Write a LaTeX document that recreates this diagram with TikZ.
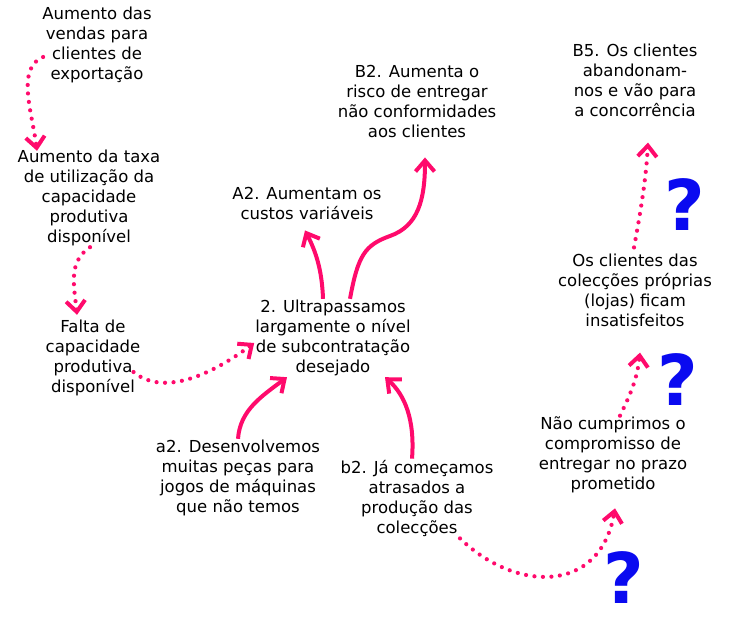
\documentclass[tikz,border=0pt]{standalone}
\usepackage{fontspec}
\setmainfont{DejaVu Sans}
\usepackage{tikz}
\usetikzlibrary{arrows.meta,calc}
\definecolor{cPink}{HTML}{FF0A6C}
\definecolor{cQBlue}{HTML}{0A0AF0}

\begin{document}
\begin{tikzpicture}[
  x=1pt,y=-1pt,
  txt/.style={align=center,inner sep=1pt,font=\fontsize{16.5}{20}\selectfont},
  qm/.style={text=cQBlue,font=\fontsize{70}{70}\bfseries},
  tip/.style={-{Straight Barb[length=11pt,width=19pt,line width=4pt]}},
  ar/.style={tip,draw=cPink,line width=4pt},
  dot/.style={tip,draw=cPink,line width=4.2pt,line cap=round,dash pattern=on 0pt off 8.5pt}
]
\useasboundingbox (0,0) rectangle (743,635);
% left column
\node[txt] (vendas) at (97,45) {Aumento das\\vendas para\\clientes de\\exportação};
\node[txt] (taxa) at (89,198) {Aumento da taxa\\de utilização da\\capacidade\\produtiva\\disponível};
\node[txt] (falta) at (93,358) {Falta de\\capacidade\\produtiva\\disponível};
% centre
\node[txt] (ultra) at (333,338) {2. Ultrapassamos\\largamente o nível\\de subcontratação\\desejado};
\node[txt] (custos) at (307,203) {A2. Aumentam os\\custos variáveis};
\node[txt] (risco) at (417,101) {B2. Aumenta o\\risco de entregar\\não conformidades\\aos clientes};
\node[txt] (desenv) at (238,478) {a2. Desenvolvemos\\muitas peças para\\jogos de máquinas\\que não temos};
\node[txt] (atras) at (417,498) {b2. Já começamos\\atrasados a\\produção das\\colecções};
% right column
\node[txt] (abandon) at (635,80) {B5. Os clientes\\abandonam-\\nos e vão para\\a concorrência};
\node[txt] (lojas) at (635,290) {Os clientes das\\colecções próprias\\(lojas) ficam\\insatisfeitos};
\node[txt] (prazo) at (613,455) {Não cumprimos o\\compromisso de\\entregar no prazo\\prometido};
\node[qm] (q1) at (685,205) {?};
\node[qm] (q2) at (678,380) {?};
\node[qm] (q3) at (624,578) {?};
% dotted links
\draw[dot] ([xshift=2pt,yshift=-12pt]vendas.west) .. controls (16,68) and (32,112) .. ([xshift=-52pt,yshift=-2pt]taxa.north);
\draw[dot] ([xshift=1pt]taxa.south) .. controls (68,262) and (74,285) .. ([xshift=-16pt,yshift=4pt]falta.north);
\draw[dot] ([xshift=-8pt,yshift=-14pt]falta.east) .. controls (165,398) and (215,372) .. ([yshift=-5pt]ultra.west);
\draw[dot] ([xshift=43pt,yshift=-1pt]atras.south) .. controls (515,592) and (600,595) .. ([xshift=2pt,yshift=-14pt]prazo.south);
\draw[dot] ([xshift=7pt]prazo.north) .. controls (630,395) and (637,380) .. ([xshift=5pt,yshift=-25pt]lojas.south);
\draw[dot] ([xshift=-1pt,yshift=5pt]lojas.north) .. controls (640,215) and (646,180) .. ([xshift=13pt,yshift=-25pt]abandon.south);
% solid links
\draw[ar] (desenv.north) .. controls (240,410) and (262,396) .. ([xshift=-46pt]ultra.south);
\draw[ar] ([xshift=-5pt]atras.north) .. controls (415,420) and (405,395) .. ([xshift=52pt]ultra.south);
\draw[ar] ([xshift=-10pt]ultra.north) .. controls (322,270) and (316,252) .. ([xshift=-2pt,yshift=-10pt]custos.south);
\draw[ar] ([xshift=17pt]ultra.north) .. controls (358,255) and (365,245) .. (390,236)
  .. controls (418,226) and (425,200) .. ([xshift=8pt,yshift=-19pt]risco.south);
\end{tikzpicture}
\end{document}
